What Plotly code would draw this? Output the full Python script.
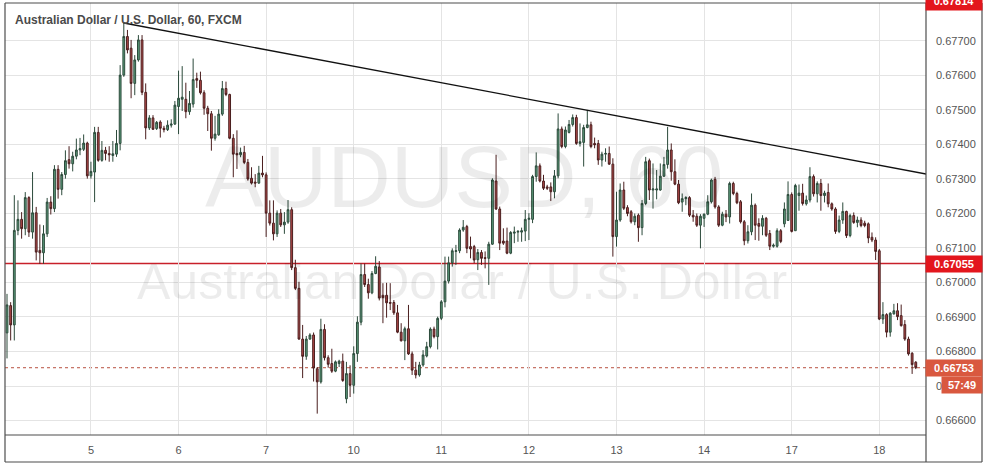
import plotly.graph_objects as go

# ---- data (hourly AUD/USD candles) ----
open_ = [0.66854,0.66933,0.66877,0.67151,0.67183,0.67156,0.67246,0.67146,0.67202,0.67093,
 0.67086,0.67141,0.67233,0.67214,0.67328,0.67270,0.67313,0.67356,0.67344,0.67366,
 0.67384,0.67386,0.67404,0.67309,0.67320,0.67435,0.67354,0.67383,0.67374,0.67368,
 0.67372,0.67403,0.67601,0.67713,0.67679,0.67577,0.67645,0.67703,0.67551,0.67448,
 0.67477,0.67446,0.67465,0.67447,0.67443,0.67456,0.67459,0.67510,0.67531,0.67531,
 0.67495,0.67517,0.67591,0.67586,0.67550,0.67505,0.67489,0.67418,0.67428,0.67488,
 0.67562,0.67545,0.67418,0.67374,0.67370,0.67377,0.67348,0.67302,0.67291,0.67288,
 0.67317,0.67312,0.67201,0.67172,0.67141,0.67201,0.67167,0.67175,0.67211,0.67043,
 0.66983,0.66836,0.66786,0.66836,0.66848,0.66750,0.66712,0.66864,0.66782,0.66765,
 0.66743,0.66765,0.66772,0.66663,0.66736,0.66702,0.66794,0.66885,0.67023,0.66994,
 0.66970,0.67026,0.67045,0.66963,0.66963,0.66942,0.66942,0.66912,0.66856,0.66831,
 0.66866,0.66793,0.66746,0.66732,0.66761,0.66787,0.66814,0.66865,0.66843,0.66896,
 0.66944,0.67004,0.67057,0.67090,0.67092,0.67152,0.67162,0.67104,0.67104,0.67066,
 0.67087,0.67072,0.67070,0.67111,0.67294,0.67213,0.67120,0.67120,0.67085,0.67143,
 0.67146,0.67146,0.67149,0.67183,0.67183,0.67307,0.67338,0.67294,0.67277,0.67277,
 0.67263,0.67309,0.67445,0.67394,0.67435,0.67458,0.67478,0.67403,0.67406,0.67449,
 0.67457,0.67403,0.67403,0.67355,0.67372,0.67374,0.67343,0.67133,0.67181,0.67268,
 0.67217,0.67205,0.67176,0.67195,0.67159,0.67229,0.67353,0.67268,0.67268,0.67268,
 0.67308,0.67342,0.67384,0.67321,0.67285,0.67233,0.67243,0.67246,0.67195,0.67192,
 0.67166,0.67186,0.67198,0.67234,0.67299,0.67219,0.67166,0.67198,0.67190,0.67287,
 0.67258,0.67234,0.67176,0.67121,0.67147,0.67224,0.67171,0.67163,0.67186,0.67142,
 0.67105,0.67105,0.67150,0.67170,0.67180,0.67255,0.67150,0.67252,0.67259,0.67228,
 0.67239,0.67307,0.67257,0.67287,0.67252,0.67261,0.67228,0.67213,0.67148,0.67181,
 0.67206,0.67136,0.67194,0.67174,0.67181,0.67172,0.67170,0.67131,0.67123,0.67092,
 0.66894,0.66907,0.66856,0.66909,0.66918,0.66904,0.66878,0.66836,0.66795,0.66769]
high = [0.66967,0.66943,0.67253,0.67238,0.67204,0.67262,0.67250,0.67320,0.67219,0.67168,
 0.67166,0.67245,0.67250,0.67340,0.67340,0.67320,0.67383,0.67395,0.67379,0.67417,
 0.67419,0.67429,0.67408,0.67350,0.67451,0.67451,0.67410,0.67393,0.67395,0.67410,
 0.67442,0.67630,0.67752,0.67732,0.67703,0.67659,0.67717,0.67717,0.67577,0.67485,
 0.67485,0.67468,0.67470,0.67454,0.67470,0.67473,0.67526,0.67614,0.67627,0.67579,
 0.67555,0.67649,0.67608,0.67611,0.67557,0.67512,0.67497,0.67483,0.67502,0.67584,
 0.67582,0.67547,0.67430,0.67441,0.67391,0.67396,0.67358,0.67334,0.67314,0.67338,
 0.67367,0.67319,0.67238,0.67238,0.67209,0.67213,0.67204,0.67239,0.67218,0.67066,
 0.67002,0.66877,0.66845,0.66853,0.66855,0.66755,0.66895,0.66879,0.66789,0.66808,
 0.66774,0.66776,0.66794,0.66770,0.66760,0.66815,0.66902,0.67055,0.67055,0.67011,
 0.67033,0.67076,0.67062,0.66998,0.66999,0.66998,0.66949,0.66935,0.66882,0.66872,
 0.66935,0.66800,0.66770,0.66770,0.66804,0.66828,0.66870,0.66872,0.66901,0.66949,
 0.67075,0.67075,0.67099,0.67109,0.67157,0.67181,0.67167,0.67133,0.67109,0.67097,
 0.67094,0.67090,0.67118,0.67302,0.67370,0.67220,0.67157,0.67159,0.67149,0.67162,
 0.67152,0.67159,0.67210,0.67201,0.67312,0.67377,0.67345,0.67312,0.67283,0.67290,
 0.67326,0.67490,0.67452,0.67452,0.67471,0.67487,0.67486,0.67461,0.67457,0.67500,
 0.67466,0.67420,0.67413,0.67379,0.67389,0.67394,0.67360,0.67263,0.67287,0.67292,
 0.67224,0.67210,0.67200,0.67200,0.67239,0.67364,0.67359,0.67345,0.67326,0.67345,
 0.67364,0.67451,0.67403,0.67357,0.67297,0.67258,0.67250,0.67250,0.67210,0.67200,
 0.67198,0.67200,0.67253,0.67301,0.67306,0.67224,0.67205,0.67210,0.67292,0.67292,
 0.67263,0.67239,0.67181,0.67166,0.67258,0.67229,0.67186,0.67195,0.67190,0.67152,
 0.67113,0.67157,0.67155,0.67232,0.67293,0.67261,0.67286,0.67284,0.67286,0.67252,
 0.67334,0.67313,0.67293,0.67300,0.67266,0.67287,0.67232,0.67218,0.67194,0.67232,
 0.67208,0.67199,0.67203,0.67191,0.67189,0.67179,0.67174,0.67145,0.67131,0.67097,
 0.66943,0.66911,0.66914,0.66938,0.66940,0.66936,0.66891,0.66843,0.66798,0.66772]
low = [0.66780,0.66832,0.66832,0.67137,0.67127,0.67137,0.67132,0.67127,0.67064,0.67054,
 0.67054,0.67132,0.67197,0.67204,0.67243,0.67253,0.67301,0.67330,0.67322,0.67357,
 0.67369,0.67381,0.67301,0.67301,0.67233,0.67350,0.67350,0.67354,0.67350,0.67350,
 0.67364,0.67383,0.67596,0.67664,0.67534,0.67543,0.67640,0.67543,0.67415,0.67442,
 0.67442,0.67442,0.67420,0.67435,0.67439,0.67449,0.67457,0.67430,0.67497,0.67476,
 0.67486,0.67507,0.67564,0.67545,0.67486,0.67439,0.67382,0.67411,0.67425,0.67483,
 0.67540,0.67415,0.67305,0.67329,0.67363,0.67343,0.67295,0.67284,0.67276,0.67286,
 0.67305,0.67132,0.67165,0.67122,0.67132,0.67161,0.67141,0.67170,0.67036,0.66978,
 0.66834,0.66723,0.66776,0.66834,0.66713,0.66620,0.66707,0.66774,0.66753,0.66738,
 0.66740,0.66755,0.66712,0.66650,0.66668,0.66678,0.66770,0.66876,0.66987,0.66953,
 0.66966,0.67024,0.66948,0.66882,0.66898,0.66920,0.66906,0.66853,0.66829,0.66775,
 0.66790,0.66732,0.66722,0.66727,0.66756,0.66783,0.66809,0.66838,0.66806,0.66891,
 0.66928,0.66997,0.67046,0.67051,0.67085,0.67147,0.67085,0.67070,0.67056,0.67036,
 0.67051,0.67041,0.66993,0.67109,0.67210,0.67094,0.67109,0.67082,0.67082,0.67114,
 0.67118,0.67118,0.67120,0.67123,0.67172,0.67292,0.67290,0.67268,0.67268,0.67236,
 0.67244,0.67302,0.67389,0.67389,0.67432,0.67452,0.67399,0.67394,0.67336,0.67447,
 0.67389,0.67389,0.67341,0.67336,0.67350,0.67341,0.67075,0.67104,0.67176,0.67210,
 0.67192,0.67171,0.67166,0.67118,0.67137,0.67224,0.67239,0.67214,0.67241,0.67266,
 0.67306,0.67330,0.67295,0.67282,0.67227,0.67205,0.67224,0.67190,0.67176,0.67161,
 0.67099,0.67161,0.67195,0.67229,0.67214,0.67161,0.67163,0.67175,0.67171,0.67253,
 0.67227,0.67171,0.67108,0.67113,0.67137,0.67123,0.67121,0.67137,0.67132,0.67094,
 0.67101,0.67101,0.67114,0.67160,0.67179,0.67145,0.67150,0.67208,0.67223,0.67223,
 0.67232,0.67249,0.67232,0.67208,0.67232,0.67218,0.67208,0.67141,0.67143,0.67170,
 0.67129,0.67131,0.67170,0.67160,0.67160,0.67160,0.67114,0.67117,0.67065,0.66891,
 0.66880,0.66841,0.66843,0.66907,0.66891,0.66872,0.66831,0.66788,0.66735,0.66749]
close = [0.66935,0.66877,0.67151,0.67183,0.67156,0.67246,0.67146,0.67202,0.67088,0.67086,
 0.67141,0.67233,0.67214,0.67328,0.67270,0.67313,0.67353,0.67344,0.67366,0.67384,
 0.67388,0.67404,0.67309,0.67322,0.67435,0.67354,0.67383,0.67374,0.67370,0.67373,
 0.67403,0.67601,0.67713,0.67674,0.67577,0.67645,0.67703,0.67551,0.67448,0.67477,
 0.67444,0.67464,0.67447,0.67443,0.67456,0.67459,0.67514,0.67534,0.67537,0.67495,
 0.67519,0.67588,0.67586,0.67550,0.67505,0.67489,0.67418,0.67430,0.67488,0.67562,
 0.67545,0.67418,0.67372,0.67370,0.67377,0.67348,0.67300,0.67288,0.67288,0.67317,
 0.67312,0.67201,0.67172,0.67141,0.67201,0.67167,0.67175,0.67211,0.67043,0.66983,
 0.66836,0.66786,0.66836,0.66848,0.66752,0.66712,0.66864,0.66782,0.66763,0.66743,
 0.66770,0.66772,0.66716,0.66736,0.66702,0.66794,0.66885,0.67023,0.66994,0.66970,
 0.67026,0.67047,0.66955,0.66956,0.66941,0.66940,0.66912,0.66856,0.66831,0.66866,
 0.66793,0.66746,0.66732,0.66761,0.66790,0.66814,0.66865,0.66843,0.66896,0.66944,
 0.67004,0.67057,0.67092,0.67092,0.67152,0.67160,0.67099,0.67097,0.67065,0.67087,
 0.67070,0.67070,0.67111,0.67297,0.67213,0.67114,0.67114,0.67085,0.67145,0.67146,
 0.67148,0.67150,0.67183,0.67186,0.67307,0.67338,0.67294,0.67273,0.67273,0.67263,
 0.67309,0.67445,0.67394,0.67442,0.67458,0.67478,0.67403,0.67408,0.67449,0.67457,
 0.67394,0.67399,0.67355,0.67372,0.67374,0.67343,0.67133,0.67181,0.67268,0.67215,
 0.67200,0.67176,0.67192,0.67159,0.67229,0.67350,0.67268,0.67271,0.67271,0.67308,
 0.67342,0.67384,0.67321,0.67285,0.67231,0.67243,0.67246,0.67195,0.67190,0.67166,
 0.67192,0.67198,0.67234,0.67297,0.67219,0.67166,0.67198,0.67190,0.67287,0.67258,
 0.67231,0.67176,0.67121,0.67147,0.67224,0.67166,0.67163,0.67186,0.67137,0.67105,
 0.67108,0.67150,0.67119,0.67213,0.67255,0.67148,0.67281,0.67259,0.67229,0.67239,
 0.67307,0.67257,0.67287,0.67252,0.67259,0.67228,0.67213,0.67148,0.67181,0.67206,
 0.67136,0.67194,0.67174,0.67181,0.67165,0.67165,0.67129,0.67123,0.67090,0.66894,
 0.66907,0.66856,0.66911,0.66918,0.66901,0.66875,0.66836,0.66793,0.66762,0.66753]

bar_index = list(range(len(close)))
day_tick_bars = [23, 47, 71, 95, 119, 143, 167, 191, 215, 239]
day_tick_labels = ["5", "6", "7", "10", "11", "12", "13", "14", "17", "18"]
price_ticks = [0.666, 0.667, 0.668, 0.669, 0.670, 0.671, 0.672, 0.673, 0.674, 0.675, 0.676, 0.677]
trend_bars = [32, 252]
trend_prices = [0.67752, 0.67314]
level_price = 0.67055
last_price = close[-1]
top_label_price = "0.67814"
countdown = "57:49"
title_text = "Australian Dollar / U.S. Dollar, 60, FXCM"
watermark_symbol = "AUDUSD, 60"
watermark_name = "Australian Dollar / U.S. Dollar"

# ---- layout geometry (pixels of the 986x465 page) ----
W, H = 986, 465
L, R, T, B = 5, 60, 3, 30
pw, ph = W - L - R, H - T - B

def px(x):
    return (x - L) / pw

def py(y):
    return 1 - (y - T) / ph

fig = go.Figure()

fig.add_trace(go.Candlestick(
    x=bar_index, open=open_, high=high, low=low, close=close,
    increasing=dict(line=dict(color="#2c4a3b", width=1), fillcolor="#5b9c7b"),
    decreasing=dict(line=dict(color="#4a1e1e", width=1), fillcolor="#b44a4a"),
    whiskerwidth=0, hoverinfo="skip", showlegend=False,
))

fig.add_trace(go.Scatter(
    x=trend_bars, y=trend_prices, mode="lines",
    line=dict(color="#111111", width=1.3), hoverinfo="skip", showlegend=False,
))

shapes = []
shapes.append(dict(type="line", xref="paper", yref="y", x0=0, x1=1,
                   y0=level_price, y1=level_price, layer="below",
                   line=dict(color="#c8202a", width=1.6)))
shapes.append(dict(type="line", xref="paper", yref="y", x0=0, x1=1,
                   y0=last_price, y1=last_price, layer="below",
                   line=dict(color="#b8503f", width=1, dash="dot")))
frame_col = "#4d4d4d"
for (x0, y0, x1, y1) in [(5, 3, 982, 3), (5, 462, 982, 462), (5, 3, 5, 462),
                         (982, 3, 982, 462), (926, 3, 926, 462), (5, 435, 926, 435)]:
    shapes.append(dict(type="line", xref="paper", yref="paper",
                       x0=px(x0), x1=px(x1), y0=py(y0), y1=py(y1),
                       line=dict(color=frame_col, width=1.2), layer="above"))
fig.update_layout(shapes=shapes)

ann = []
ann.append(dict(text=watermark_symbol, xref="paper", yref="paper",
                x=px(464), y=py(176), xanchor="center", yanchor="middle", showarrow=False,
                font=dict(family="Liberation Sans", size=88, color="rgba(0,0,0,0.075)")))
ann.append(dict(text=watermark_name, xref="paper", yref="paper",
                x=px(462), y=py(282), xanchor="center", yanchor="middle", showarrow=False,
                font=dict(family="Liberation Sans", size=50, color="rgba(0,0,0,0.075)")))
ann.append(dict(text=title_text, xref="paper", yref="paper",
                x=px(13), y=py(20), xanchor="left", yanchor="middle", showarrow=False,
                font=dict(family="Liberation Sans", size=12, color="#4a4a4a", weight=600)))
ann.append(dict(text="<b>%.5f</b>" % level_price, xref="paper", yref="y",
                x=px(954), y=level_price, xanchor="center", yanchor="middle", showarrow=False,
                bgcolor="#e3161d", width=54, height=14, borderpad=1,
                font=dict(family="Liberation Sans", size=11, color="white")))
ann.append(dict(text="<b>%.5f</b>" % last_price, xref="paper", yref="y",
                x=px(954), y=last_price, xanchor="center", yanchor="middle", showarrow=False,
                bgcolor="#d9583f", width=54, height=14, borderpad=1,
                font=dict(family="Liberation Sans", size=11, color="white")))
ann.append(dict(text="<b>%s</b>" % countdown, xref="paper", yref="paper",
                x=px(962), y=py(385), xanchor="center", yanchor="middle", showarrow=False,
                bgcolor="#d9583f", width=38, height=14, borderpad=1,
                font=dict(family="Liberation Sans", size=11, color="white")))
ann.append(dict(text="<b>%s</b>" % top_label_price, xref="paper", yref="paper",
                x=px(954), y=py(1), xanchor="center", yanchor="middle", showarrow=False,
                bgcolor="#e3161d", width=54, height=16, borderpad=1,
                font=dict(family="Liberation Sans", size=11, color="white")))
fig.update_layout(annotations=ann)

fig.update_layout(
    width=W, height=H,
    margin=dict(l=L, r=R, t=T, b=B),
    paper_bgcolor="white", plot_bgcolor="white",
    showlegend=False,
    xaxis=dict(
        range=[-0.55, 251.8], rangeslider=dict(visible=False),
        tickmode="array", tickvals=day_tick_bars, ticktext=day_tick_labels,
        showgrid=True, gridcolor="#e4e4e4", gridwidth=1,
        zeroline=False, showline=False, ticks="",
        ticklabelstandoff=7,
        tickfont=dict(family="Liberation Sans", size=11, color="#555555"),
        fixedrange=True,
    ),
    yaxis=dict(
        side="right", range=[0.66558, 0.67810],
        tickmode="array", tickvals=price_ticks, tickformat=".5f",
        showgrid=True, gridcolor="#e4e4e4", gridwidth=1,
        zeroline=False, showline=False, ticks="",
        ticklabelstandoff=9,
        tickfont=dict(family="Liberation Sans", size=11, color="#555555"),
        fixedrange=True,
    ),
)

fig.write_html(
    "out.html",
    config={"displayModeBar": False},
    post_script="document.body.style.margin='0px';document.body.style.padding='0px';"
                "document.body.style.overflow='hidden';",
)
